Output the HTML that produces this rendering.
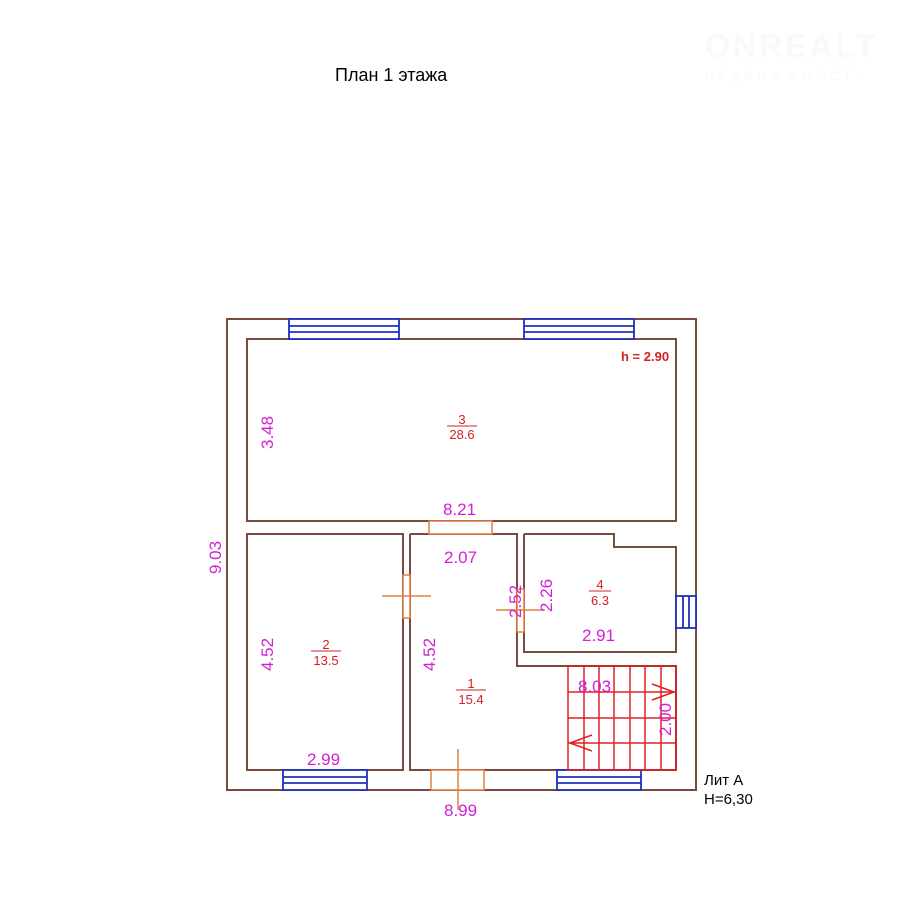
<!DOCTYPE html>
<html><head><meta charset="utf-8"><style>
body{margin:0;background:#fff;}
svg{display:block;font-family:"Liberation Sans",sans-serif;}
</style></head><body>
<svg width="922" height="910" viewBox="0 0 922 910" xmlns="http://www.w3.org/2000/svg">
<rect width="922" height="910" fill="#fff"/>
<text x="705" y="57" font-size="32" font-weight="bold" fill="#f9f9f9" letter-spacing="3">ONREALT</text>
<text x="705" y="80" font-size="12" fill="#f9f9f9" letter-spacing="5">НЕДВИЖИМОСТЬ</text>
<text x="335" y="81" font-size="18" fill="#000">План 1 этажа</text>
<g fill="none" stroke="#7b4a3e" stroke-width="2">
<rect x="227" y="319" width="469" height="471"/>
<rect x="247" y="339" width="429" height="182"/>
<rect x="247" y="534" width="156" height="236"/>
<polyline points="410,534 517,534 517,666 676,666 676,770 410,770 410,534"/>
<polyline points="524,534 614,534 614,547 676,547 676,652 524,652 524,534"/>
</g>
<g stroke="#2030c0" stroke-width="1.8" fill="#fff">
<rect x="289" y="319" width="110" height="20"/><line x1="289" y1="326" x2="399" y2="326"/><line x1="289" y1="332" x2="399" y2="332"/>
<rect x="524" y="319" width="110" height="20"/><line x1="524" y1="326" x2="634" y2="326"/><line x1="524" y1="332" x2="634" y2="332"/>
<rect x="283" y="770" width="84" height="20"/><line x1="283" y1="777" x2="367" y2="777"/><line x1="283" y1="783" x2="367" y2="783"/>
<rect x="557" y="770" width="84" height="20"/><line x1="557" y1="777" x2="641" y2="777"/><line x1="557" y1="783" x2="641" y2="783"/>
<rect x="676" y="596" width="20" height="32"/><line x1="683" y1="596" x2="683" y2="628"/><line x1="689" y1="596" x2="689" y2="628"/>
</g>
<g stroke="#e08040" stroke-width="1.5" fill="#fff">
<rect x="429" y="521" width="63" height="13"/>
<rect x="431" y="770" width="53" height="20"/>
<line x1="458" y1="749" x2="458" y2="810"/>
<rect x="403" y="575" width="7" height="43"/>
<line x1="382" y1="596" x2="431" y2="596"/>
<rect x="517" y="589" width="7" height="43"/>
<line x1="496" y1="610" x2="545" y2="610"/>
</g>
<g stroke="#e02020" stroke-width="1.5" fill="none">
<rect x="568" y="666" width="108" height="104"/>
<line x1="584" y1="666" x2="584" y2="770"/><line x1="599" y1="666" x2="599" y2="770"/><line x1="614" y1="666" x2="614" y2="770"/><line x1="630" y1="666" x2="630" y2="770"/><line x1="645" y1="666" x2="645" y2="770"/><line x1="661" y1="666" x2="661" y2="770"/>
<line x1="568" y1="692" x2="676" y2="692"/><line x1="568" y1="718" x2="676" y2="718"/><line x1="568" y1="743" x2="676" y2="743"/>
<polyline points="652,684 674,692 652,700"/>
<polyline points="592,735 570,743 592,751"/>
</g>
<g fill="#d21fd2" font-size="17">
<text x="443" y="515">8.21</text>
<text x="444" y="563">2.07</text>
<text x="582" y="641">2.91</text>
<text x="307" y="765">2.99</text>
<text x="444" y="816">8.99</text>
<text x="578" y="692">8.03</text>
<text transform="translate(273,449) rotate(-90)">3.48</text>
<text transform="translate(221,574) rotate(-90)">9.03</text>
<text transform="translate(273,671) rotate(-90)">4.52</text>
<text transform="translate(435,671) rotate(-90)">4.52</text>
<text transform="translate(521,618) rotate(-90)">2.52</text>
<text transform="translate(552,612) rotate(-90)">2.26</text>
<text transform="translate(671,736) rotate(-90)">2.00</text>
</g>
<g fill="#d42020" font-size="13" text-anchor="middle">
<text x="621" y="361" font-size="13" text-anchor="start" font-weight="bold">h = 2.90</text>
<text x="462" y="424">3</text><line x1="447" y1="426" x2="477" y2="426" stroke="#d42020"/><text x="462" y="439">28.6</text>
<text x="326" y="649">2</text><line x1="311" y1="651" x2="341" y2="651" stroke="#d42020"/><text x="326" y="665">13.5</text>
<text x="471" y="688">1</text><line x1="456" y1="690" x2="486" y2="690" stroke="#d42020"/><text x="471" y="704">15.4</text>
<text x="600" y="589">4</text><line x1="589" y1="591" x2="611" y2="591" stroke="#d42020"/><text x="600" y="605">6.3</text>
</g>
<text x="704" y="785" font-size="15" fill="#000">Лит А</text>
<text x="704" y="804" font-size="15" fill="#000">H=6,30</text>
</svg>
</body></html>
